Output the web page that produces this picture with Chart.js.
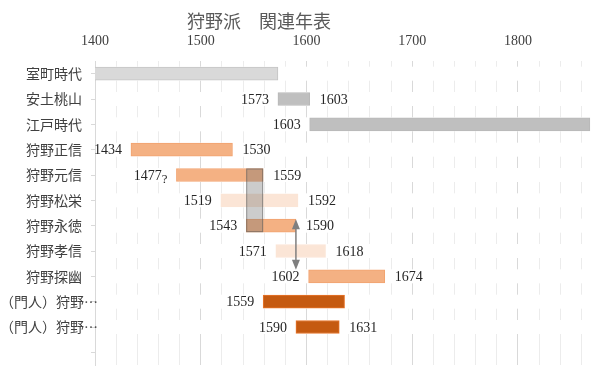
<!DOCTYPE html>
<html lang="ja">
<head>
<meta charset="utf-8">
<script src="https://cdn.jsdelivr.net/npm/chart.js@4.4.0/dist/chart.umd.min.js"></script>
<style>
  html, body { margin: 0; padding: 0; background: #fff; }
  #wrap { position: relative; width: 600px; height: 374px; }
  #title {
    position: absolute; left: 159px; top: 11px; width: 200px;
    text-align: center; font: 18px/18px 'Noto Sans CJK JP', sans-serif; color: #595959;
  }
</style>
</head>
<body>
<div id="wrap">
  <div id="title">狩野派　関連年表</div>
  <canvas id="chart" width="600" height="374"></canvas>
</div>
<script>
// 年表データ
const categories = ['室町時代', '安土桃山', '江戸時代', '狩野正信', '狩野元信', '狩野松栄', '狩野永徳', '狩野孝信', '狩野探幽', '（門人）狩野…', '（門人）狩野…', ''];
const startYears = [1336, 1573, 1603, 1434, 1477, 1519, 1543, 1571, 1602, 1559, 1590, null];
const endYears   = [1573, 1603, 1868, 1530, 1559, 1592, 1590, 1618, 1674, 1636, 1631, null];
const showStart  = [false, true, true, true, true, true, true, true, true, true, true, false];
const showEnd    = [false, true, false, true, true, true, true, true, true, false, true, false];
const startNotes = ['', '', '', '', '?', '', '', '', '', '', '', ''];
const yearTicks  = [1400, 1500, 1600, 1700, 1800];

// 元信と永徳の重なり期間、永徳→探幽の矢印
const overlapYears = [1543, 1559];
const overlapRows  = ['狩野元信', '狩野永徳'];
const arrowYear    = 1590;
const arrowRows    = ['狩野永徳', '狩野探幽'];

const barColors   = ['#d9d9d9', '#bfbfbf', '#bfbfbf', '#f4b183', '#f4b183', '#fbe5d6', '#f4b183', '#fbe5d6', '#f4b183', '#c55a11', '#c55a11', '#fff'];
const borderColors = ['#c4c4c4', '#b8b8b8', '#b8b8b8', '#f2a36f', '#f2a36f', '#fbe5d6', '#f2a36f', '#fbe5d6', '#f2a36f', '#e9762b', '#e9762b', '#fff'];

const BAR_H = 13;
const NUM_FONT = '14px "Liberation Serif", "Noto Sans CJK JP", serif';
const CAT_FONT = '14px "Noto Sans CJK JP", sans-serif';

/**
 * Hide the grid lines behind each filled row (like the original Excel sheet)
 */
const rowMask = {
  id: 'rowMask',
  beforeDatasetsDraw(chart) {
    const { ctx, chartArea, scales: { y } } = chart;
    ctx.save();
    ctx.fillStyle = '#fff';
    categories.forEach((c, i) => {
      if (startYears[i] == null) return;
      const cy = y.getPixelForValue(i);
      ctx.fillRect(chartArea.left + 1, cy - 7, chartArea.right - chartArea.left, 14);
    });
    ctx.restore();
  }
};

/**
 * Category labels: right aligned, long ones start at the left edge (Excel style)
 */
const categoryLabels = {
  id: 'categoryLabels',
  afterDraw(chart) {
    const { ctx, chartArea, scales: { y } } = chart;
    ctx.save();
    ctx.font = CAT_FONT;
    ctx.fillStyle = '#404040';
    ctx.textBaseline = 'middle';
    const right = chartArea.left - 13;
    categories.forEach((c, i) => {
      if (!c) return;
      const cy = y.getPixelForValue(i);
      const w = ctx.measureText(c).width;
      if (w > right) {
        ctx.textAlign = 'left';
        ctx.fillText(c, 0, cy);
      } else {
        ctx.textAlign = 'right';
        ctx.fillText(c, right, cy);
      }
    });
    ctx.restore();
  }
};

/**
 * Overlap box, arrow and year labels
 */
const annotations = {
  id: 'annotations',
  afterDatasetsDraw(chart) {
    const { ctx, scales: { x, y } } = chart;
    ctx.save();

    // overlap box
    const r0 = categories.indexOf(overlapRows[0]);
    const r1 = categories.indexOf(overlapRows[1]);
    const bx0 = x.getPixelForValue(overlapYears[0]);
    const bx1 = x.getPixelForValue(overlapYears[1]);
    const by0 = y.getPixelForValue(r0) - BAR_H / 2;
    const by1 = y.getPixelForValue(r1) + BAR_H / 2;
    ctx.fillStyle = 'rgba(110,110,110,0.35)';
    ctx.fillRect(bx0, by0, bx1 - bx0, by1 - by0);
    ctx.strokeStyle = 'rgba(90,90,90,0.55)';
    ctx.lineWidth = 1;
    ctx.strokeRect(bx0 + 0.5, by0 + 0.5, bx1 - bx0 - 1, by1 - by0 - 1);

    // double arrow
    const ax = x.getPixelForValue(arrowYear);
    const ay0 = y.getPixelForValue(categories.indexOf(arrowRows[0])) - BAR_H / 2;
    const ay1 = y.getPixelForValue(categories.indexOf(arrowRows[1])) - BAR_H / 2;
    ctx.strokeStyle = '#7f7f7f';
    ctx.fillStyle = '#7f7f7f';
    ctx.lineWidth = 1.5;
    ctx.beginPath();
    ctx.moveTo(ax, ay0 + 8);
    ctx.lineTo(ax, ay1 - 8);
    ctx.stroke();
    ctx.beginPath();
    ctx.moveTo(ax, ay0); ctx.lineTo(ax - 4, ay0 + 10); ctx.lineTo(ax + 4, ay0 + 10); ctx.closePath();
    ctx.fill();
    ctx.beginPath();
    ctx.moveTo(ax, ay1); ctx.lineTo(ax - 4, ay1 - 10); ctx.lineTo(ax + 4, ay1 - 10); ctx.closePath();
    ctx.fill();

    // year labels
    ctx.font = NUM_FONT;
    ctx.fillStyle = '#262626';
    ctx.textBaseline = 'middle';
    categories.forEach((c, i) => {
      if (startYears[i] == null) return;
      const cy = y.getPixelForValue(i);
      if (showStart[i]) {
        let right = x.getPixelForValue(startYears[i]) - 9;
        if (startNotes[i]) {
          ctx.textAlign = 'right';
          ctx.font = '13px "Liberation Serif", serif';
          ctx.fillText(startNotes[i], right, cy + 5);
          right -= ctx.measureText(startNotes[i]).width;
          ctx.font = NUM_FONT;
        }
        ctx.textAlign = 'right';
        ctx.fillText(String(startYears[i]), right, cy + 1);
      }
      if (showEnd[i]) {
        ctx.textAlign = 'left';
        ctx.fillText(String(endYears[i]), x.getPixelForValue(endYears[i]) + 10, cy + 1);
      }
    });
    ctx.restore();
  }
};

new Chart(document.getElementById('chart'), {
  type: 'bar',
  data: {
    labels: categories,
    datasets: [{
      data: categories.map((c, i) => startYears[i] == null ? null : [startYears[i], endYears[i]]),
      backgroundColor: barColors,
      borderColor: borderColors,
      borderWidth: 1,
      borderSkipped: false,
      barThickness: BAR_H
    }]
  },
  options: {
    indexAxis: 'y',
    responsive: false,
    animation: false,
    layout: { padding: { top: 33, right: 8, bottom: 9, left: 0 } },
    plugins: {
      legend: { display: false },
      tooltip: { enabled: false }
    },
    scales: {
      x: {
        type: 'linear',
        position: 'top',
        min: 1400,
        max: 1870,
        afterFit: (s) => { s.height = 28; },
        ticks: {
          stepSize: 20,
          includeBounds: false,
          padding: 11,
          maxRotation: 0,
          autoSkip: false,
          color: '#404040',
          font: { family: '"Liberation Serif", serif', size: 14 },
          callback: (v) => yearTicks.includes(v) ? String(v) : ''
        },
        grid: {
          drawTicks: false,
          lineWidth: 1,
          color: (ctx) => (ctx.tick && ctx.tick.value % 100 === 0) ? '#d9d9d9' : '#ececec'
        },
        border: { display: false }
      },
      y: {
        afterFit: (s) => { s.width = 95; },
        ticks: { display: false },
        grid: {
          offset: false,
          drawOnChartArea: false,
          drawTicks: true,
          tickLength: 4,
          color: '#d9d9d9'
        },
        border: { display: true, color: '#d9d9d9' }
      }
    }
  },
  plugins: [rowMask, annotations, categoryLabels]
});
</script>
</body>
</html>
